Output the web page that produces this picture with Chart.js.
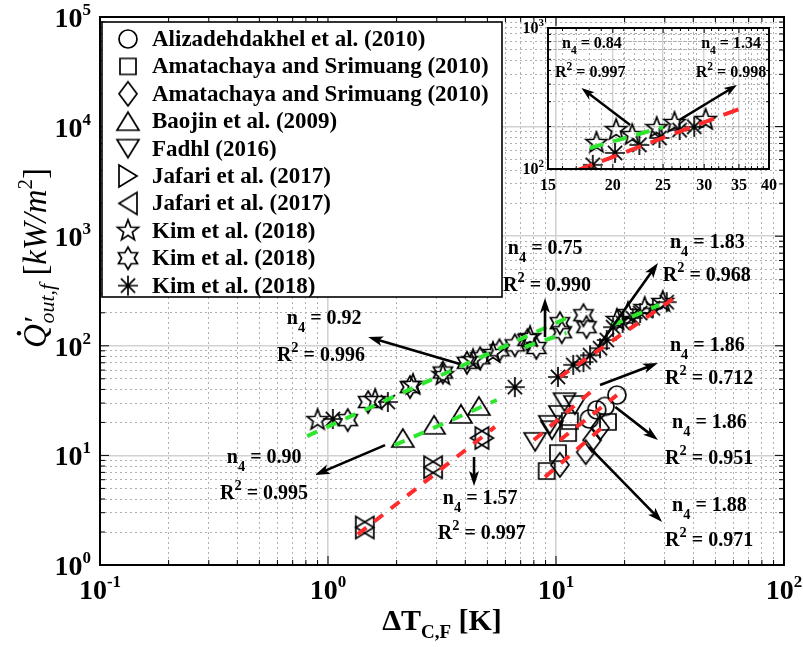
<!DOCTYPE html>
<html>
<head>
<meta charset="utf-8">
<script src="https://cdn.jsdelivr.net/npm/chart.js@4.4.0/dist/chart.umd.min.js"></script>
<style>
  body { margin: 0; background: #fff; }
  #wrap { position: relative; width: 803px; height: 647px; }
  #main { position: absolute; left: 0; top: 0; }
  #inset { position: absolute; left: 500px; top: 0; }
</style>
</head>
<body>
<div id="wrap">
  <canvas id="main" width="803" height="647"></canvas>
  <canvas id="inset" width="303" height="200"></canvas>
</div>
<script>
// ---- data: ΔT_C,F [K] vs Q'_out,f [kW/m2] ----
const sourceNames = [
  'Alizadehdakhel et al. (2010)',
  'Amatachaya and Srimuang (2010)',
  'Amatachaya and Srimuang (2010)',
  'Baojin et al. (2009)',
  'Fadhl (2016)',
  'Jafari et al. (2017)',
  'Jafari et al. (2017)',
  'Kim et al. (2018)',
  'Kim et al. (2018)',
  'Kim et al. (2018)'
];

const aliX = [14.0, 15.1, 16.4, 18.5];
const aliY = [21.5, 26.0, 28.0, 35.5];
const amaSqX = [9.1, 10.2, 11.3, 11.5, 16.9];
const amaSqY = [7.2, 10.5, 16.0, 20.6, 20.2];
const amaDiX = [10.4, 13.5, 14.4, 15.6];
const amaDiY = [8.2, 10.7, 13.8, 17.8];
const baoX = [2.13, 2.92, 3.83, 4.59];
const baoY = [14.4, 19.0, 23.9, 28.2];
const fadX = [8.1, 9.4, 9.6, 10.4, 10.9, 12.1];
const fadY = [13.3, 19.0, 17.0, 23.4, 30.6, 28.8];
const jafRX = [1.45, 2.89, 4.85];
const jafRY = [2.2, 7.8, 14.4];
const jafLX = [1.45, 2.89, 4.62];
const jafLY = [2.2, 7.8, 14.4];
const kimStarX = [0.90, 1.61, 2.36, 3.19, 4.33, 5.29, 7.7, 18.5, 20.7, 24.5, 29.4];
const kimStarY = [21, 32, 44, 54, 74, 86, 120, 172, 199, 221, 251];
const kimHexX = [1.22, 1.50, 2.29, 3.19, 4.07, 4.65, 5.65, 6.6, 7.5, 8.2, 10.6, 10.4, 13.6, 13.2];
const kimHexY = [21, 30.7, 42, 57, 70, 77, 91, 101, 113, 95.5, 133, 161, 148, 190];
const kimAstX = [1.05, 1.83, 6.6, 10.2, 11.9, 13.2, 14.1, 15.6, 16.7, 17.8, 19.6, 21.7, 23.4, 26.6, 30.6];
const kimAstY = [21.5, 30.7, 42, 52, 67, 71, 82, 95, 113, 148, 162, 179, 199, 220, 250];

// power-law fits (end points)
const fitKimA_X = [0.81, 11.4];  const fitKimA_Y = [15.0, 183];
const fitKimB_X = [7.3, 11.1];   const fitKimB_Y = [97.5, 131];
const fitKimC_X = [17.7, 28.4];  const fitKimC_Y = [155, 236];
const fitBaoX = [1.96, 5.5];     const fitBaoY = [12.4, 32];
const fitJafX = [1.35, 5.4];     const fitJafY = [1.9, 18.2];
const fitAstX = [10.4, 34.5];    const fitAstY = [52, 290];
const fitFadX = [8.0, 14.5];     const fitFadY = [13.8, 39.4];
const fitMidX = [10.4, 18.5];    const fitMidY = [13.8, 35.5];
const fitSqX = [8.95, 16.4];     const fitSqY = [6.35, 18.9];

// zoomed view 15-40 K
const inAstX = [18.3, 20.2, 22.5, 24.6, 26.9, 28.7];
const inAstY = [107, 130, 148, 166, 189, 199];
const inStarX = [18.6, 20.3, 21.8, 24.3, 26.3, 30.2];
const inStarY = [153, 189, 174, 195, 212, 223];
const inFitStarX = [18.06, 25.0]; const inFitStarY = [141, 198];
const inFitAstX = [17.1, 35.0];   const inFitAstY = [98, 266];
const inTickX = [15, 20, 25, 30, 35, 40];

// fit labels: exponent n4 and R^2, anchored in data units
const mainNotes = [
  {n: '0.92', r: '0.996', nx: 0.660, ny: 179, rx: 0.597, ry: 82.4},
  {n: '0.75', r: '0.990', nx: 6.15, ny: 780, rx: 5.86, ry: 359},
  {n: '1.83', r: '0.968', nx: 31.6, ny: 885, rx: 29.4, ry: 443},
  {n: '1.86', r: '0.712', nx: 31.6, ny: 101.7, rx: 30.1, ry: 50.9},
  {n: '1.86', r: '0.951', nx: 32.3, ny: 20.2, rx: 30.1, ry: 9.47},
  {n: '1.88', r: '0.971', nx: 32.3, ny: 3.53, rx: 30.1, ry: 1.69},
  {n: '0.90', r: '0.995', nx: 0.360, ny: 9.67, rx: 0.336, ry: 4.54},
  {n: '1.57', r: '0.997', nx: 3.19, ny: 4.09, rx: 3.03, ry: 1.96}
];
const mainArrows = [
  [3.79, 68.2, 1.50, 120.3],
  [8.95, 120.3, 8.95, 273],
  [15.28, 97.5, 28.0, 569],
  [15.6, 43.9, 28.0, 69.7],
  [18.2, 27.7, 28.0, 13.8],
  [13.97, 11.9, 29.2, 2.47],
  [1.78, 12.4, 0.877, 6.63],
  [4.37, 9.67, 4.37, 5.26]
];
const insetNotes = [
  {n: '0.84', r: '0.997', nx: 15.96, ny: 784, rx: 15.47, ry: 487},
  {n: '1.34', r: '0.998', nx: 29.6, ny: 784, rx: 28.9, ry: 487}
];
const insetArrows = [
  [21.6, 205, 17.4, 375],
  [26.9, 223, 34.7, 394]
];

const GREEN = '#2ee62e';
const RED = '#ff2b2b';
const SERIF = '"Liberation Serif", "Times New Roman", serif';
const bold = s => 'bold ' + s + 'px ' + SERIF;
const ital = s => 'italic ' + s + 'px ' + SERIF;
const plain = s => s + 'px ' + SERIF;

// ---- marker glyphs (open, black outline) ----
function makeMarker(kind) {
  const c = document.createElement('canvas');
  c.width = 30; c.height = 30;
  const g = c.getContext('2d');
  g.translate(15, 15);
  g.strokeStyle = '#000';
  g.lineWidth = 1.7;
  g.beginPath();
  const poly = p => { p.forEach((q, i) => i ? g.lineTo(q[0], q[1]) : g.moveTo(q[0], q[1])); g.closePath(); };
  const star = (n, R, r) => {
    const p = [];
    for (let i = 0; i < 2 * n; i++) {
      const a = i * Math.PI / n, d = i % 2 ? r : R;
      p.push([d * Math.sin(a), -d * Math.cos(a)]);
    }
    return p;
  };
  switch (kind) {
    case 'circle': g.arc(0, 0, 9, 0, 2 * Math.PI); break;
    case 'square': g.rect(-8, -8, 16, 16); break;
    case 'diamond': poly([[0, -12], [9, 0], [0, 12], [-9, 0]]); break;
    case 'up': poly([[0, -9], [11, 9], [-11, 9]]); break;
    case 'down': poly([[0, 9], [11, -9], [-11, -9]]); break;
    case 'right': poly([[9, 0], [-9, -11], [-9, 11]]); break;
    case 'left': poly([[-9, 0], [9, -11], [9, 11]]); break;
    case 'pent': poly(star(5, 11, 4.6)); break;
    case 'hex': poly(star(6, 11, 6.35)); break;
    case 'ast':
      for (let i = 0; i < 4; i++) {
        const a = i * Math.PI / 4;
        g.moveTo(-10 * Math.cos(a), -10 * Math.sin(a));
        g.lineTo(10 * Math.cos(a), 10 * Math.sin(a));
      }
      break;
  }
  g.stroke();
  return c;
}
const kinds = ['circle', 'square', 'diamond', 'up', 'down', 'right', 'left', 'pent', 'hex', 'ast'];
const markers = {};
kinds.forEach(k => markers[k] = makeMarker(k));

const pts = (xs, ys) => xs.map((v, i) => ({x: v, y: ys[i]}));

const seriesX = [aliX, amaSqX, amaDiX, baoX, fadX, jafRX, jafLX, kimStarX, kimHexX, kimAstX];
const seriesY = [aliY, amaSqY, amaDiY, baoY, fadY, jafRY, jafLY, kimStarY, kimHexY, kimAstY];

const markerSets = sourceNames.map((name, i) => ({
  label: name,
  data: pts(seriesX[i], seriesY[i]),
  pointStyle: markers[kinds[i]],
  pointRadius: 10,
  showLine: false,
  order: 1
}));

function fitSet(xs, ys, color, dash) {
  return {
    data: pts(xs, ys),
    showLine: true,
    borderColor: color,
    borderWidth: 4,
    borderDash: dash,
    pointRadius: 0,
    fill: false,
    order: 0
  };
}
const DASH = [11, 10];
const fitSets = [
  fitSet(fitKimA_X, fitKimA_Y, GREEN, DASH),
  fitSet(fitKimB_X, fitKimB_Y, GREEN, DASH),
  fitSet(fitKimC_X, fitKimC_Y, GREEN, DASH),
  fitSet(fitBaoX, fitBaoY, GREEN, DASH),
  fitSet(fitJafX, fitJafY, RED, DASH),
  fitSet(fitAstX, fitAstY, RED, DASH),
  fitSet(fitFadX, fitFadY, RED, DASH),
  fitSet(fitMidX, fitMidY, RED, DASH),
  fitSet(fitSqX, fitSqY, RED, DASH)
];

// ---- drawing helpers ----
function isDecade(v) {
  if (!(v > 0)) return false;
  const l = Math.log10(v);
  return Math.abs(l - Math.round(l)) < 1e-6;
}
function logTicks(lo, hi) {
  const t = [];
  for (let e = lo; e < hi; e++)
    for (let m = 1; m < 10; m++) t.push({value: m * Math.pow(10, e)});
  t.push({value: Math.pow(10, hi)});
  return t;
}
function richWidth(ctx, parts) {
  let w = 0;
  parts.forEach(p => { ctx.font = p.font; w += ctx.measureText(p.t).width + (p.dx || 0); });
  return w;
}
function richDraw(ctx, x, y, parts) {
  let cx = x;
  parts.forEach(p => {
    ctx.font = p.font;
    cx += (p.dx || 0);
    ctx.fillText(p.t, cx, y + (p.dy || 0));
    cx += ctx.measureText(p.t).width;
  });
  return cx - x;
}
function note(ctx, x, y, sym, val, size) {
  const parts = sym === 'n'
    ? [{t: 'n', font: bold(size)}, {t: '4', font: bold(size * 0.72), dy: size * 0.42}, {t: ' = ' + val, font: bold(size)}]
    : [{t: 'R', font: bold(size)}, {t: '2', font: bold(size * 0.72), dy: -size * 0.45}, {t: ' = ' + val, font: bold(size)}];
  richDraw(ctx, x, y + size * 0.3, parts);
}
function arrow(ctx, x0, y0, x1, y1, len, half, lw) {
  const a = Math.atan2(y1 - y0, x1 - x0);
  ctx.save();
  ctx.strokeStyle = '#000';
  ctx.fillStyle = '#000';
  ctx.lineWidth = lw;
  ctx.beginPath();
  ctx.moveTo(x0, y0);
  ctx.lineTo(x1 - Math.cos(a) * len * 0.7, y1 - Math.sin(a) * len * 0.7);
  ctx.stroke();
  ctx.translate(x1, y1);
  ctx.rotate(a);
  ctx.beginPath();
  ctx.moveTo(0, 0);
  ctx.lineTo(-len, -half);
  ctx.lineTo(-len * 0.75, 0);
  ctx.lineTo(-len, half);
  ctx.closePath();
  ctx.fill();
  ctx.restore();
}
function frame(chart, majX, majY, lenMaj, lenMin) {
  const {ctx, chartArea: a} = chart;
  const sx = chart.scales.x, sy = chart.scales.y;
  ctx.strokeStyle = '#000';
  ctx.lineWidth = 1;
  ctx.beginPath();
  sx.ticks.forEach(t => {
    const p = sx.getPixelForValue(t.value), L = majX(t.value) ? lenMaj : lenMin;
    if (!L) return;
    ctx.moveTo(p, a.bottom); ctx.lineTo(p, a.bottom - L);
    ctx.moveTo(p, a.top); ctx.lineTo(p, a.top + L);
  });
  sy.ticks.forEach(t => {
    const p = sy.getPixelForValue(t.value), L = majY(t.value) ? lenMaj : lenMin;
    if (!L) return;
    ctx.moveTo(a.left, p); ctx.lineTo(a.left + L, p);
    ctx.moveTo(a.right, p); ctx.lineTo(a.right - L, p);
  });
  ctx.stroke();
  ctx.lineWidth = 2;
  ctx.strokeRect(a.left, a.top, a.right - a.left, a.bottom - a.top);
}
function logGrid() {
  return {
    color: c => isDecade(c.tick && c.tick.value) ? '#d2d2d2' : '#b0b0b0',
    lineWidth: c => isDecade(c.tick && c.tick.value) ? 1.6 : 1,
    drawTicks: false
  };
}
const logDash = {display: false, dash: c => isDecade(c.tick && c.tick.value) ? [] : [2, 3]};

// ---- main chart ----
const mainDecor = {
  id: 'mainDecor',
  afterDraw(chart) {
    const {ctx, chartArea: a} = chart;
    const sx = chart.scales.x, sy = chart.scales.y;
    ctx.save();
    ctx.fillStyle = '#000';
    ctx.textAlign = 'left';
    ctx.textBaseline = 'alphabetic';

    mainArrows.forEach(r => arrow(ctx, sx.getPixelForValue(r[0]), sy.getPixelForValue(r[1]),
      sx.getPixelForValue(r[2]), sy.getPixelForValue(r[3]), 15, 5, 2.6));
    mainNotes.forEach(nt => {
      note(ctx, sx.getPixelForValue(nt.nx), sy.getPixelForValue(nt.ny), 'n', nt.n, 20);
      note(ctx, sx.getPixelForValue(nt.rx), sy.getPixelForValue(nt.ry), 'R', nt.r, 20);
    });

    frame(chart, isDecade, isDecade, 9, 5);

    // decade labels 10^n
    sx.ticks.filter(t => isDecade(t.value)).forEach(t => {
      const parts = [{t: '10', font: bold(28)}, {t: String(Math.round(Math.log10(t.value))), font: bold(17), dy: -12}];
      const w = richWidth(ctx, parts);
      richDraw(ctx, sx.getPixelForValue(t.value) - w / 2, a.bottom + 34, parts);
    });
    sy.ticks.filter(t => isDecade(t.value)).forEach(t => {
      const parts = [{t: '10', font: bold(28)}, {t: String(Math.round(Math.log10(t.value))), font: bold(17), dy: -12}];
      const w = richWidth(ctx, parts);
      richDraw(ctx, a.left - 9 - w, sy.getPixelForValue(t.value) + 10, parts);
    });

    // axis titles
    const xt = [{t: 'ΔT', font: bold(30)}, {t: 'C,F', font: bold(19), dy: 8}, {t: ' [K]', font: bold(30)}];
    richDraw(ctx, (a.left + a.right) / 2 - richWidth(ctx, xt) / 2, 630, xt);

    ctx.save();
    ctx.translate(46, 258);
    ctx.rotate(-Math.PI / 2);
    const yt = [
      {t: 'Q', font: ital(33)},
      {t: '′', font: ital(30), dy: -2},
      {t: 'out,f', font: ital(22), dy: 8, dx: -6},
      {t: ' [', font: plain(33)},
      {t: 'kW/m', font: ital(33)},
      {t: '2', font: plain(21), dy: -14},
      {t: ']', font: plain(33)}
    ];
    const yw = richWidth(ctx, yt);
    ctx.font = ital(33);
    const qw = ctx.measureText('Q').width;
    richDraw(ctx, -yw / 2, 0, yt);
    ctx.beginPath();
    ctx.arc(-yw / 2 + qw * 0.62, -27, 2.2, 0, 2 * Math.PI);
    ctx.fill();
    ctx.restore();

    // legend box
    const lx = 102, ly = 22, lw = 400, lh = 275;
    ctx.fillStyle = '#fff';
    ctx.fillRect(lx, ly, lw, lh);
    ctx.strokeStyle = '#000';
    ctx.lineWidth = 1.6;
    ctx.strokeRect(lx, ly, lw, lh);
    ctx.fillStyle = '#000';
    ctx.font = bold(23);
    ctx.textBaseline = 'middle';
    sourceNames.forEach((name, i) => {
      const cy = ly + 17 + i * 27.4;
      const m = markers[kinds[i]];
      ctx.drawImage(m, 128 - m.width / 2, cy - m.height / 2);
      ctx.fillText(name, 152, cy + 1);
    });
    ctx.restore();
  }
};

new Chart(document.getElementById('main'), {
  type: 'scatter',
  data: {datasets: [...fitSets, ...markerSets]},
  options: {
    responsive: false,
    animation: false,
    devicePixelRatio: 1,
    layout: {padding: {top: 17, right: 19, left: 0, bottom: 0}},
    plugins: {legend: {display: false}, tooltip: {enabled: false}},
    scales: {
      x: {
        type: 'logarithmic', min: 0.1, max: 100,
        afterBuildTicks: s => { s.ticks = logTicks(-1, 2); },
        afterFit: s => { s.height = 82; },
        ticks: {display: false},
        grid: logGrid(),
        border: logDash
      },
      y: {
        type: 'logarithmic', min: 1, max: 1e5,
        afterBuildTicks: s => { s.ticks = logTicks(0, 5); },
        afterFit: s => { s.width = 100; },
        ticks: {display: false},
        grid: logGrid(),
        border: logDash
      }
    }
  },
  plugins: [mainDecor]
});

// ---- inset: 15-40 K ----
const insetDecor = {
  id: 'insetDecor',
  afterDraw(chart) {
    const {ctx, chartArea: a} = chart;
    const sx = chart.scales.x, sy = chart.scales.y;
    ctx.save();
    ctx.fillStyle = '#000';
    ctx.textAlign = 'left';
    ctx.textBaseline = 'alphabetic';
    insetArrows.forEach(r => arrow(ctx, sx.getPixelForValue(r[0]), sy.getPixelForValue(r[1]),
      sx.getPixelForValue(r[2]), sy.getPixelForValue(r[3]), 13, 4.5, 2.4));
    insetNotes.forEach(nt => {
      note(ctx, sx.getPixelForValue(nt.nx), sy.getPixelForValue(nt.ny), 'n', nt.n, 16);
      note(ctx, sx.getPixelForValue(nt.rx), sy.getPixelForValue(nt.ry), 'R', nt.r, 16);
    });
    frame(chart, v => inTickX.includes(v), isDecade, 5, 3);
    ctx.font = bold(16);
    ctx.textAlign = 'center';
    inTickX.forEach(v => ctx.fillText(String(v), sx.getPixelForValue(v), a.bottom + 21));
    ctx.textAlign = 'left';
    [100, 1000].forEach(v => {
      const parts = [{t: '10', font: bold(16)}, {t: String(Math.round(Math.log10(v))), font: bold(11), dy: -7}];
      const w = richWidth(ctx, parts);
      richDraw(ctx, a.left - 4 - w, sy.getPixelForValue(v) + 5, parts);
    });
    ctx.restore();
  }
};

const insetTicksX = [];
for (let v = 15; v <= 40; v++) insetTicksX.push({value: v});
const insetTicksY = [];
for (let v = 100; v <= 1000; v += 100) insetTicksY.push({value: v});

new Chart(document.getElementById('inset'), {
  type: 'scatter',
  data: {
    datasets: [
      fitSet(inFitStarX, inFitStarY, GREEN, [14, 10]),
      fitSet(inFitAstX, inFitAstY, RED, [16, 10]),
      {data: pts(inStarX, inStarY), pointStyle: markers.pent, pointRadius: 10, order: 1},
      {data: pts(inAstX, inAstY), pointStyle: markers.ast, pointRadius: 10, order: 1}
    ]
  },
  options: {
    responsive: false,
    animation: false,
    devicePixelRatio: 1,
    layout: {padding: {top: 28, right: 34, left: 0, bottom: 0}},
    plugins: {legend: {display: false}, tooltip: {enabled: false}},
    scales: {
      x: {
        type: 'logarithmic', min: 15, max: 40,
        afterBuildTicks: s => { s.ticks = insetTicksX.map(t => ({value: t.value})); },
        afterFit: s => { s.height = 31; },
        ticks: {display: false},
        grid: {
          color: c => (c.tick && c.tick.value % 5 === 0) ? '#d2d2d2' : '#b0b0b0',
          lineWidth: c => (c.tick && c.tick.value % 5 === 0) ? 1.4 : 1,
          drawTicks: false
        },
        border: {display: false, dash: c => (c.tick && c.tick.value % 5 === 0) ? [] : [2, 3]}
      },
      y: {
        type: 'logarithmic', min: 100, max: 1000,
        afterBuildTicks: s => { s.ticks = insetTicksY.map(t => ({value: t.value})); },
        afterFit: s => { s.width = 48; },
        ticks: {display: false},
        grid: logGrid(),
        border: logDash
      }
    }
  },
  plugins: [insetDecor]
});
</script>
</body>
</html>
